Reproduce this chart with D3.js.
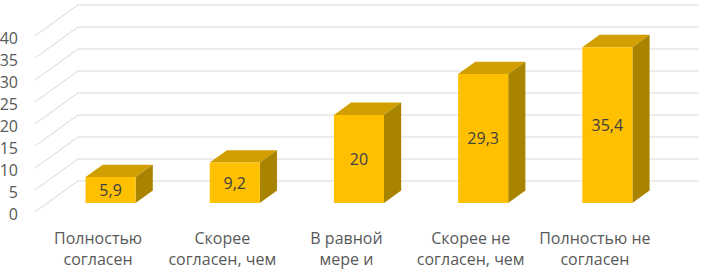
<!DOCTYPE html>
<html>
<head>
<meta charset="utf-8">
<script src="https://cdn.jsdelivr.net/npm/d3@7"></script>
<style>
  body { margin: 0; background: #fff; }
  svg { display: block; font-family: "Open Sans", sans-serif; }
</style>
</head>
<body>
<div id="chart"></div>
<script>
const categories = ["Полностью согласен", "Скорее согласен, чем", "В равной мере и", "Скорее не согласен, чем", "Полностью не согласен"];
const labelLines = [
    ["Полностью", "согласен"],
    ["Скорее", "согласен, чем"],
    ["В равной", "мере и"],
    ["Скорее не", "согласен, чем"],
    ["Полностью не", "согласен"]
];
const values = [5.9, 9.2, 20, 29.3, 35.4];
const valueLabels = ["5,9", "9,2", "20", "29,3", "35,4"];
const yTicks = [0, 5, 10, 15, 20, 25, 30, 35, 40];

const width = 705, height = 270;

// oblique 3d: full depth shifts right/up
const depthX = 43, depthY = 31;
const barD0 = 0.29, barD1 = 0.69; // bar position within the depth

const svg = d3.select("#chart").append("svg")
    .attr("width", width)
    .attr("height", height);

const x = d3.scaleBand()
    .domain(categories)
    .range([36, 657]);

const y = d3.scaleLinear()
    .domain([0, 40])
    .range([212, 36]);

const barW = x.bandwidth() * 0.403;

// project a point (front-plane x, value, depth 0..1)
const pt = (px, v, d) => [px + depthX * d, y(v) - depthY * d];

// gridlines: side-wall diagonal + back-wall horizontal
const grid = svg.append("g");
yTicks.forEach(v => {
    const a = pt(x.range()[0] - 1, v, 0);
    const b = pt(x.range()[0] - 1, v, 1);
    const c = pt(x.range()[1] - 1, v, 1);
    grid.append("path")
        .attr("d", d3.line()([a, b, c]))
        .attr("fill", "none")
        .attr("stroke", "#d9d9d9")
        .attr("stroke-width", 1);
});

// y axis labels
const yAxis = svg.append("g")
    .attr("transform", "translate(18,2)")
    .call(d3.axisLeft(y).tickValues(yTicks).tickSize(0).tickPadding(0));
yAxis.select(".domain").remove();
yAxis.selectAll("text")
    .attr("font-family", "Open Sans, sans-serif")
    .attr("font-size", 16)
    .attr("fill", "#595959");

// bars
const bars = svg.selectAll(".bar")
    .data(categories)
    .enter()
    .append("g")
    .attr("class", "bar");

const poly = ps => "M" + ps.map(p => p.join(",")).join("L") + "Z";

bars.each(function(c, i) {
    const g = d3.select(this);
    const x0 = x(c) + (x.bandwidth() - barW) / 2;
    const x1 = x0 + barW;
    const v = values[i];
    // top face
    g.append("path")
        .attr("d", poly([pt(x0, v, barD0), pt(x1, v, barD0), pt(x1, v, barD1), pt(x0, v, barD1)]))
        .attr("fill", "#d1a000");
    // side face
    g.append("path")
        .attr("d", poly([pt(x1, 0, barD0), pt(x1, v, barD0), pt(x1, v, barD1), pt(x1, 0, barD1)]))
        .attr("fill", "#a98400");
    // front face
    g.append("path")
        .attr("d", poly([pt(x0, 0, barD0), pt(x1, 0, barD0), pt(x1, v, barD0), pt(x0, v, barD0)]))
        .attr("fill", "#ffc000");
    // value label
    const fx = pt((x0 + x1) / 2, v / 2, barD0);
    g.append("text")
        .attr("x", fx[0])
        .attr("y", fx[1])
        .attr("dy", "0.36em")
        .attr("text-anchor", "middle")
        .attr("font-size", 16)
        .attr("fill", "#404040")
        .text(valueLabels[i]);
});

// category labels, one text per line
const catLabels = svg.append("g");
categories.forEach((c, i) => {
    labelLines[i].forEach((line, k) => {
        catLabels.append("text")
            .attr("x", x(c) + x.bandwidth() / 2)
            .attr("y", 244 + k * 21)
            .attr("text-anchor", "middle")
            .attr("font-size", 16)
            .attr("fill", "#595959")
            .text(line);
    });
});
</script>
</body>
</html>
